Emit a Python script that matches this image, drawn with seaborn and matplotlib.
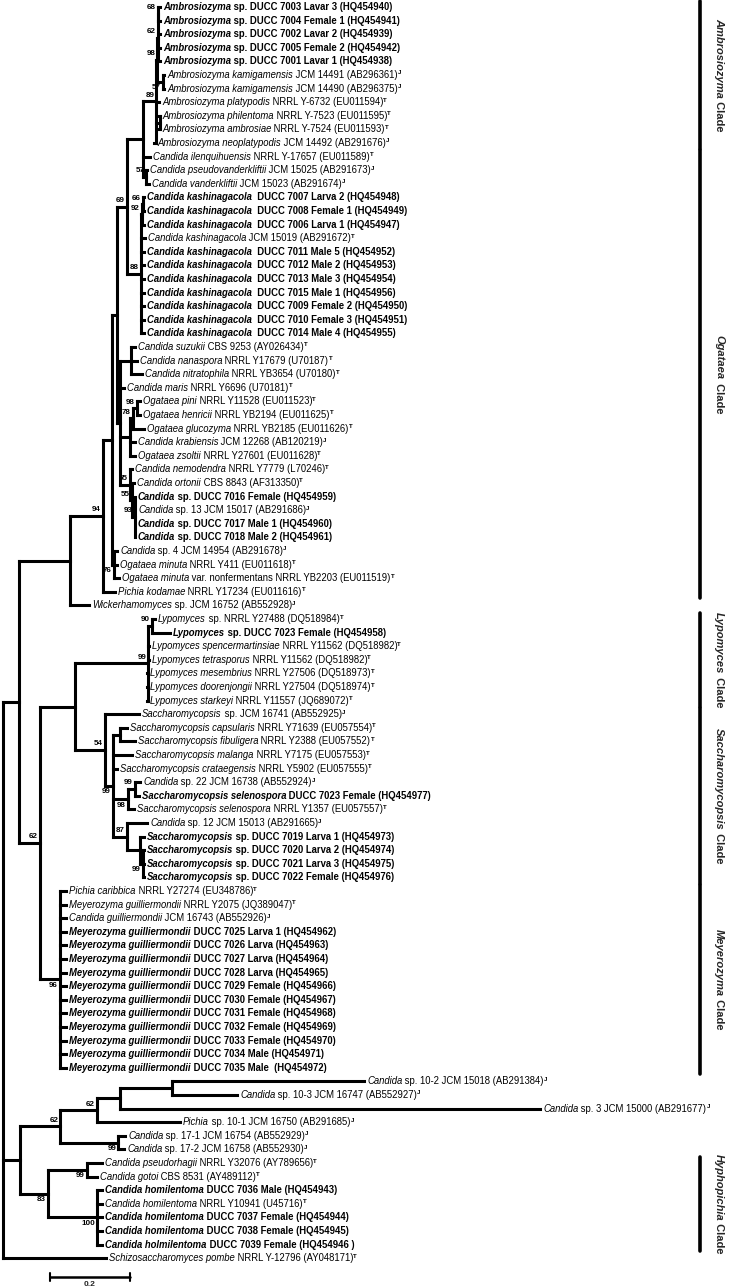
import matplotlib
matplotlib.use("Agg")
import matplotlib.pyplot as plt
import seaborn as sns

sns.set_theme(style="white")
plt.rcParams["font.family"] = ["Liberation Sans", "DejaVu Sans"]

# ---------------- data ----------------
TAXA_ITALIC = [
    "Ambrosiozyma", "Ambrosiozyma", "Ambrosiozyma", "Ambrosiozyma", "Ambrosiozyma",
    "Ambrosiozyma kamigamensis", "Ambrosiozyma kamigamensis", "Ambrosiozyma platypodis",
    "Ambrosiozyma philentoma", "Ambrosiozyma ambrosiae", "Ambrosiozyma neoplatypodis",
    "Candida ilenquihuensis", "Candida pseudovanderkliftii", "Candida vanderkliftii",
    "Candida kashinagacola", "Candida kashinagacola", "Candida kashinagacola", "Candida kashinagacola",
    "Candida kashinagacola", "Candida kashinagacola", "Candida kashinagacola", "Candida kashinagacola",
    "Candida kashinagacola", "Candida kashinagacola", "Candida kashinagacola",
    "Candida suzukii", "Candida nanaspora", "Candida nitratophila", "Candida maris",
    "Ogataea pini", "Ogataea henricii", "Ogataea glucozyma", "Candida krabiensis", "Ogataea zsoltii",
    "Candida nemodendra", "Candida ortonii", "Candida", "Candida", "Candida", "Candida", "Candida",
    "Ogataea minuta", "Ogataea minuta", "Pichia kodamae", "Wickerhamomyces",
    "Lypomyces", "Lypomyces", "Lypomyces spencermartinsiae", "Lypomyces tetrasporus",
    "Lypomyces mesembrius", "Lypomyces doorenjongii", "Lypomyces starkeyi",
    "Saccharomycopsis", "Saccharomycopsis capsularis", "Saccharomycopsis fibuligera",
    "Saccharomycopsis malanga", "Saccharomycopsis crataegensis", "Candida",
    "Saccharomycopsis selenospora", "Saccharomycopsis selenospora", "Candida",
    "Saccharomycopsis", "Saccharomycopsis", "Saccharomycopsis", "Saccharomycopsis",
    "Pichia caribbica", "Meyerozyma guilliermondii", "Candida guilliermondii",
    "Meyerozyma guilliermondii", "Meyerozyma guilliermondii", "Meyerozyma guilliermondii",
    "Meyerozyma guilliermondii", "Meyerozyma guilliermondii", "Meyerozyma guilliermondii",
    "Meyerozyma guilliermondii", "Meyerozyma guilliermondii", "Meyerozyma guilliermondii",
    "Meyerozyma guilliermondii", "Meyerozyma guilliermondii",
    "Candida", "Candida", "Candida", "Pichia", "Candida", "Candida",
    "Candida pseudorhagii", "Candida gotoi", "Candida homilentoma", "Candida homilentoma",
    "Candida homilentoma", "Candida homilentoma", "Candida holmilentoma",
    "Schizosaccharomyces pombe",
]
TAXA_REST = [
    " sp. DUCC 7003 Lavar 3 (HQ454940)", " sp. DUCC 7004 Female 1 (HQ454941)",
    " sp. DUCC 7002 Lavar 2 (HQ454939)", " sp. DUCC 7005 Female 2 (HQ454942)",
    " sp. DUCC 7001 Lavar 1 (HQ454938)", " JCM 14491 (AB296361)", " JCM 14490 (AB296375)",
    " NRRL Y-6732 (EU011594)", " NRRL Y-7523 (EU011595)", " NRRL Y-7524 (EU011593)",
    " JCM 14492 (AB291676)", " NRRL Y-17657 (EU011589)", " JCM 15025 (AB291673)",
    " JCM 15023 (AB291674)",
    "  DUCC 7007 Larva 2 (HQ454948)", "  DUCC 7008 Female 1 (HQ454949)",
    "  DUCC 7006 Larva 1 (HQ454947)", " JCM 15019 (AB291672)",
    "  DUCC 7011 Male 5 (HQ454952)", "  DUCC 7012 Male 2 (HQ454953)",
    "  DUCC 7013 Male 3 (HQ454954)", "  DUCC 7015 Male 1 (HQ454956)",
    "  DUCC 7009 Female 2 (HQ454950)", "  DUCC 7010 Female 3 (HQ454951)",
    "  DUCC 7014 Male 4 (HQ454955)",
    " CBS 9253 (AY026434)", " NRRL Y17679 (U70187)", " NRRL YB3654 (U70180)",
    " NRRL Y6696 (U70181)", " NRRL Y11528 (EU011523)", " NRRL YB2194 (EU011625)",
    " NRRL YB2185 (EU011626)", " JCM 12268 (AB120219)", " NRRL Y27601 (EU011628)",
    " NRRL Y7779 (L70246)", " CBS 8843 (AF313350)", " sp. DUCC 7016 Female (HQ454959)",
    " sp. 13 JCM 15017 (AB291686)", " sp. DUCC 7017 Male 1 (HQ454960)",
    " sp. DUCC 7018 Male 2 (HQ454961)", " sp. 4 JCM 14954 (AB291678)",
    " NRRL Y411 (EU011618)", " var. nonfermentans NRRL YB2203 (EU011519)",
    " NRRL Y17234 (EU011616)", " sp. JCM 16752 (AB552928)",
    " sp. NRRL Y27488 (DQ518984)", " sp. DUCC 7023 Female (HQ454958)",
    " NRRL Y11562 (DQ518982)", " NRRL Y11562 (DQ518982)", " NRRL Y27506 (DQ518973)",
    " NRRL Y27504 (DQ518974)", " NRRL Y11557 (JQ689072)",
    " sp. JCM 16741 (AB552925)", " NRRL Y71639 (EU057554)", " NRRL Y2388 (EU057552)",
    " NRRL Y7175 (EU057553)", " NRRL Y5902 (EU057555)", " sp. 22 JCM 16738 (AB552924)",
    " DUCC 7023 Female (HQ454977)", " NRRL Y1357 (EU057557)", " sp. 12 JCM 15013 (AB291665)",
    " sp. DUCC 7019 Larva 1 (HQ454973)", " sp. DUCC 7020 Larva 2 (HQ454974)",
    " sp. DUCC 7021 Larva 3 (HQ454975)", " sp. DUCC 7022 Female (HQ454976)",
    " NRRL Y27274 (EU348786)", " NRRL Y2075 (JQ389047)", " JCM 16743 (AB552926)",
    " DUCC 7025 Larva 1 (HQ454962)", " DUCC 7026 Larva (HQ454963)",
    " DUCC 7027 Larva (HQ454964)", " DUCC 7028 Larva (HQ454965)",
    " DUCC 7029 Female (HQ454966)", " DUCC 7030 Female (HQ454967)",
    " DUCC 7031 Female (HQ454968)", " DUCC 7032 Female (HQ454969)",
    " DUCC 7033 Female (HQ454970)", " DUCC 7034 Male (HQ454971)",
    " DUCC 7035 Male  (HQ454972)",
    " sp. 10-2 JCM 15018 (AB291384)", " sp. 10-3 JCM 16747 (AB552927)",
    " sp. 3 JCM 15000 (AB291677)", " sp. 10-1 JCM 16750 (AB291685)",
    " sp. 17-1 JCM 16754 (AB552929)", " sp. 17-2 JCM 16758 (AB552930)",
    " NRRL Y32076 (AY789656)", " CBS 8531 (AY489112)", " DUCC 7036 Male (HQ454943)",
    " NRRL Y10941 (U45716)", " DUCC 7037 Female (HQ454944)", " DUCC 7038 Female (HQ454945)",
    " DUCC 7039 Female (HQ454946 )", " NRRL Y-12796 (AY048171)",
]
TAXA_BOLD = [1, 1, 1, 1, 1, 0, 0, 0, 0, 0, 0, 0, 0, 0,
             1, 1, 1, 0, 1, 1, 1, 1, 1, 1, 1,
             0, 0, 0, 0, 0, 0, 0, 0, 0, 0, 0, 1, 0, 1, 1, 0, 0, 0, 0, 0,
             0, 1, 0, 0, 0, 0, 0,
             0, 0, 0, 0, 0, 0, 1, 0, 0, 1, 1, 1, 1,
             0, 0, 0, 1, 1, 1, 1, 1, 1, 1, 1, 1, 1, 1,
             0, 0, 0, 0, 0, 0, 0, 0, 1, 0, 1, 1, 1, 0]
TAXA_SUP = ["", "", "", "", "", "J", "J", "T", "T", "T", "J", "T", "J", "J",
            "", "", "", "T", "", "", "", "", "", "", "",
            "T", "T", "T", "T", "T", "T", "T", "J", "T", "T", "T", "", "J", "", "", "J", "T", "T", "T", "J",
            "T", "", "T", "T", "T", "T", "T",
            "J", "T", "T", "T", "T", "J", "", "T", "J", "", "", "", "",
            "T", "T", "J", "", "", "", "", "", "", "", "", "", "", "",
            "J", "J", "J", "J", "J", "J", "T", "T", "", "T", "", "", "", "T"]

# tip depths (substitutions per site)
TIP_DEPTH = [0.393, 0.393, 0.393, 0.393, 0.393, 0.403, 0.403, 0.390, 0.390, 0.390, 0.378,
             0.368, 0.360, 0.365,
             0.353, 0.353, 0.353, 0.355, 0.353, 0.353, 0.353, 0.353, 0.353, 0.353, 0.353,
             0.330, 0.335, 0.348, 0.303, 0.343, 0.343, 0.353, 0.330, 0.330, 0.323, 0.328,
             0.330, 0.330, 0.330, 0.330, 0.285, 0.285, 0.290, 0.280, 0.215,
             0.380, 0.418, 0.365, 0.365, 0.360, 0.360, 0.360,
             0.340, 0.310, 0.330, 0.323, 0.285, 0.343, 0.340, 0.328, 0.360, 0.353, 0.353, 0.353, 0.353,
             0.158, 0.158, 0.158, 0.158, 0.158, 0.158, 0.158, 0.158, 0.158, 0.158, 0.158, 0.158, 0.158, 0.158,
             0.903, 0.585, 1.343, 0.443, 0.305, 0.303, 0.248, 0.235,
             0.248, 0.248, 0.248, 0.248, 0.248, 0.258]

# internal nodes: name -> (depth, children, bootstrap support)
NODES = {
    "A1": (0.388, [0, 1], "68"),
    "A1b": (0.387, ["A1", 2, 3, 4], "62"),
    "A2": (0.400, [5, 6], "57"),
    "A2b": (0.386, ["A1b", "A2"], "98"),
    "A3": (0.392, [8, 9], ""),
    "A4": (0.383, ["A2b", 7, "A3", 10], "89"),
    "C1": (0.358, [12, 13], "57"),
    "C2": (0.350, ["A4", 11, "C1"], ""),
    "K1": (0.350, [14, 15], "66"),
    "K1b": (0.347, ["K1", 16], "92"),
    "K2": (0.345, ["K1b", 17, 18, 19, 20, 21, 22, 23, 24], "88"),
    "C3": (0.310, ["C2", "K2"], "69"),
    "S2": (0.320, [25, 26, 27], ""),
    "P1": (0.335, [29, 30], "98"),
    "P2": (0.325, ["P1", 31], "78"),
    "P3": (0.318, ["P2", 32, 33], ""),
    "D1": (0.330, [36, 37, 38, 39], "93"),
    "D2": (0.323, [35, "D1"], "55"),
    "D3": (0.318, [34, "D2"], "55"),
    "OG2": (0.293, ["S2", 28, "P3", "D3"], ""),
    "N69": (0.285, ["C3", "OG2"], ""),
    "M76": (0.2775, [40, 41, 42], "76"),
    "P5": (0.2725, ["N69", "M76"], ""),
    "O94": (0.250, ["P5", 43], "94"),
    "W": (0.1675, ["O94", 44], ""),
    "L1": (0.373, [45, 46], "90"),
    "L2": (0.363, ["L1", 47, 48, 49, 50, 51], "99"),
    "SA1": (0.2925, [53, 54], ""),
    "SA2": (0.330, [57, 58], "99"),
    "SA3": (0.3125, ["SA2", 59], "98"),
    "SA4a": (0.350, [62, 63, 64], "99"),
    "SA4": (0.3425, [61, "SA4a"], ""),
    "SA5": (0.310, [60, "SA4"], "87"),
    "SA6": (0.275, ["SA1", 55, 56, "SA3", "SA5"], "99"),
    "SA7": (0.255, [52, "SA6"], "54"),
    "LS": (0.180, ["L2", "SA7"], ""),
    "ME": (0.1425, list(range(65, 79)), "96"),
    "N40": (0.0925, ["LS", "ME"], "62"),
    "N19": (0.040, ["W", "N40"], ""),
    "B102": (0.423, [79, 80], ""),
    "B3": (0.293, ["B102", 81], ""),
    "B62a": (0.235, ["B3", 82], "62"),
    "B99a": (0.288, [83, 84], "99"),
    "B62b": (0.143, ["B62a", "B99a"], "62"),
    "H99": (0.210, [85, 86], "99"),
    "H100": (0.235, [87, 88, 89, 90, 91], "100"),
    "H83": (0.113, ["H99", "H100"], "83"),
    "LOW": (0.043, ["B62b", "H83"], ""),
    "ROOT": (0.0, ["N19", "LOW", 92], ""),
}

CLADES = [("Ambrosiozyma", 0, 10), ("Ogataea", 11, 43), ("Lypomyces", 45, 51),
          ("Saccharomycopsis", 52, 64), ("Meyerozyma", 65, 78), ("Hyphopichia", 85, 91)]

SCALE_LEN = 0.2

# ---------------- layout ----------------
PX_W, PX_H = 740, 1288
ROW0_PX, ROW_PX = 7.0, 13.6
UNIT_PX = 400.0
ROOT_PX = 3.0
BELOW = {"ME", "H83", "H100", "H99", "B99a", "SA4a", "SA3", "SA6", "M76", "A2"}

fig = plt.figure(figsize=(PX_W / 100, PX_H / 100), dpi=100)
ax = fig.add_axes([0, 0, 1, 1])
ax.set_xlim(-ROOT_PX / UNIT_PX, (PX_W - ROOT_PX) / UNIT_PX)
ax.set_ylim((PX_H - ROW0_PX) / ROW_PX, -ROW0_PX / ROW_PX)
ax.axis("off")

LW = 2.2
ypos = {}


def node_y(key):
    if isinstance(key, int):
        return float(key)
    if key in ypos:
        return ypos[key]
    ys = [node_y(c) for c in NODES[key][1]]
    ypos[key] = (min(ys) + max(ys)) / 2
    return ypos[key]


def cx(key):
    return TIP_DEPTH[key] if isinstance(key, int) else NODES[key][0]


px = 1.0 / UNIT_PX
rowpx = 1.0 / ROW_PX

for name, (d, children, sup) in NODES.items():
    ys = [node_y(c) for c in children]
    ax.plot([d, d], [min(ys), max(ys)], color="black", lw=LW, solid_capstyle="projecting")
    for c in children:
        ax.plot([d, cx(c)], [node_y(c), node_y(c)], color="black", lw=LW,
                solid_capstyle="projecting")
    if sup:
        if name in BELOW:
            ax.text(d - 2 * px, node_y(name) + 2.5 * rowpx, sup, ha="right", va="top",
                    fontsize=5.8, fontweight="bold", color="black")
        else:
            ax.text(d - 2 * px, node_y(name) - 2.5 * rowpx, sup, ha="right", va="bottom",
                    fontsize=5.8, fontweight="bold", color="black")

FS = 6.85
for i in range(len(TAXA_ITALIC)):
    w = "bold" if TAXA_BOLD[i] else "normal"
    t1 = ax.text(TIP_DEPTH[i] + 3 * px, i, TAXA_ITALIC[i], style="italic", fontweight=w,
                 fontsize=FS, ha="left", va="center", color="black")
    t2 = ax.annotate(TAXA_REST[i], xy=(1, 0), xycoords=t1, ha="left", va="bottom",
                     fontsize=FS, fontweight=w, color="black")
    if TAXA_SUP[i]:
        ax.annotate(TAXA_SUP[i], xy=(1, 0.45), xycoords=t2, ha="left", va="bottom",
                    fontsize=4.4, fontweight="bold", color="black")

# clade bars and labels
bar_x = (700 - ROOT_PX) / UNIT_PX
fig.canvas.draw()
renderer = fig.canvas.get_renderer()
inv = ax.transData.inverted()
for gname, r0, r1 in CLADES:
    ax.plot([bar_x, bar_x], [r0 - 0.45, r1 + 0.45], color="black", lw=2.6)
    ymid = (r0 + r1) / 2
    t1 = ax.text(bar_x + 19 * px, ymid, gname, rotation=270, style="italic",
                 fontweight="bold", fontsize=8, ha="center", va="bottom")
    t2 = ax.annotate(" Clade", xy=(0.5, 0), xycoords=t1, rotation=270, ha="center", va="top",
                     fontweight="bold", fontsize=8)
    b1 = t1.get_window_extent(renderer)
    b2 = t2.get_window_extent(renderer)
    total = b1.height + b2.height
    top_px = ax.transData.transform((0, ymid))[1] + total / 2
    new_y = inv.transform((0, top_px))[1]
    t1.set_va("top")
    t1.set_y(new_y)

# scale bar
sb_x0 = (50 - ROOT_PX) / UNIT_PX
sb_y = (1277 - ROW0_PX) / ROW_PX
ax.plot([sb_x0, sb_x0 + SCALE_LEN], [sb_y, sb_y], color="black", lw=1.8)
ax.plot([sb_x0, sb_x0], [sb_y - 0.3, sb_y + 0.3], color="black", lw=1.5)
ax.plot([sb_x0 + SCALE_LEN, sb_x0 + SCALE_LEN], [sb_y - 0.3, sb_y + 0.3], color="black", lw=1.5)
ax.text(sb_x0 + SCALE_LEN / 2, sb_y + 0.3, str(SCALE_LEN), ha="center", va="top",
        fontsize=6, fontweight="bold")

fig.savefig("out.png", dpi=100, facecolor="white")
